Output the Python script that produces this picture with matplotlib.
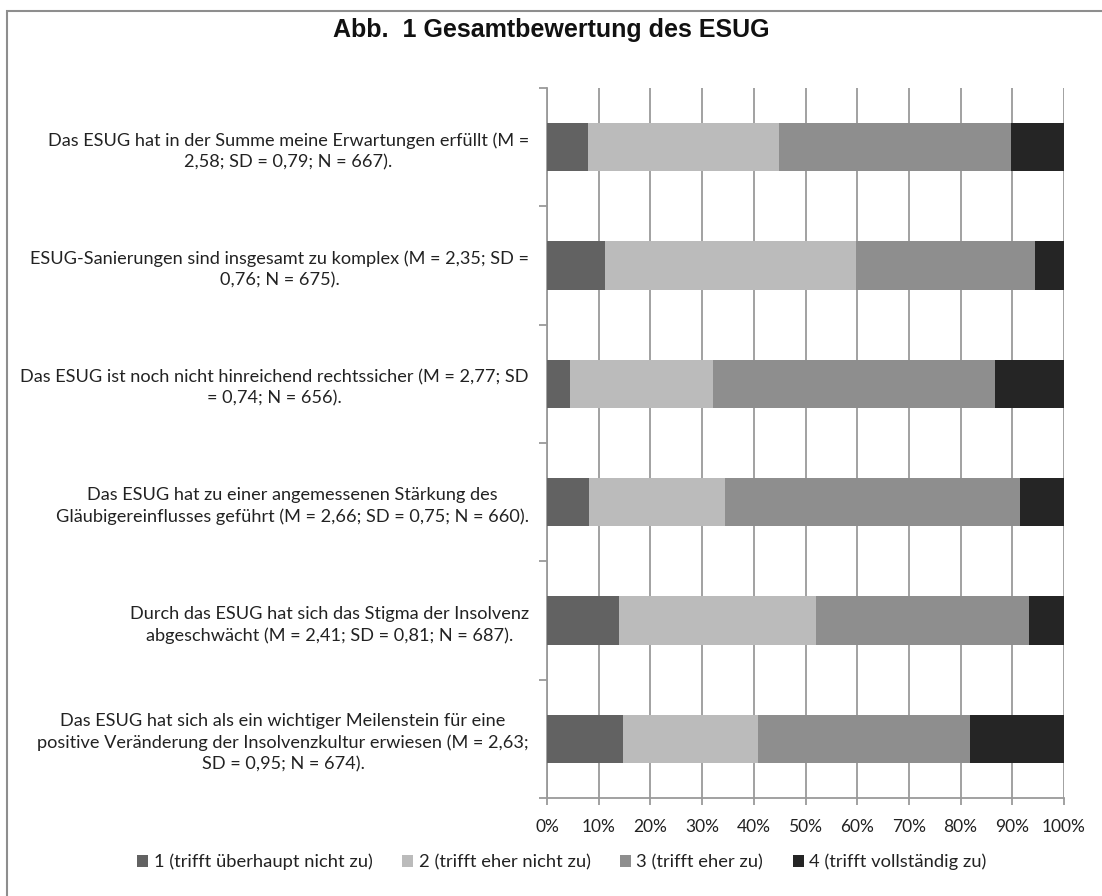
import numpy as np
import matplotlib
matplotlib.use('Agg')
import matplotlib.pyplot as plt
from matplotlib.patches import Rectangle

# survey items, top to bottom
items = [
    'Das ESUG hat in der Summe meine Erwartungen erfüllt (M =\n2,58; SD = 0,79; N = 667).',
    'ESUG-Sanierungen sind insgesamt zu komplex (M = 2,35; SD =\n0,76; N = 675).',
    'Das ESUG ist noch nicht hinreichend rechtssicher (M = 2,77; SD\n= 0,74; N = 656).',
    'Das ESUG hat zu einer angemessenen Stärkung des\nGläubigereinflusses geführt (M = 2,66; SD = 0,75; N = 660).',
    'Durch das ESUG hat sich das Stigma der Insolvenz\nabgeschwächt (M = 2,41; SD = 0,81; N = 687).',
    'Das ESUG hat sich als ein wichtiger Meilenstein für eine\npositive Veränderung der Insolvenzkultur erwiesen (M = 2,63;\nSD = 0,95; N = 674).',
]
answers = ['1 (trifft überhaupt nicht zu)', '2 (trifft eher nicht zu)',
           '3 (trifft eher zu)', '4 (trifft vollständig zu)']

# shares in percent per answer category
share_1 = [8.0, 11.3, 4.5, 8.1, 13.9, 14.7]
share_2 = [36.8, 48.4, 27.7, 26.3, 38.2, 26.1]
share_3 = [44.9, 34.6, 54.4, 57.0, 41.1, 41.0]
share_4 = [10.3, 5.7, 13.4, 8.6, 6.8, 18.2]

colors = ['#626262', '#bbbbbb', '#8e8e8e', '#252525']
grid_c = '#9a9a9a'

plt.rcParams['font.family'] = ['Lato', 'DejaVu Sans']

fig = plt.figure(figsize=(11.02, 8.96), dpi=100)
ax = fig.add_axes([547/1102, 1-798/896, (1064-547)/1102, (798-88)/896])

y = np.arange(len(items))
left = np.zeros(len(items))
for vals, col, lab in zip([share_1, share_2, share_3, share_4], colors, answers):
    v = np.array(vals) / 100
    ax.barh(y, v, left=left, height=0.41, color=col, label=lab, zorder=3)
    left += v

ax.set_xlim(0, 1)
ax.set_ylim(len(items) - 0.5, -0.5)
ax.set_xticks(np.linspace(0, 1, 11))
ax.set_xticklabels([f'{int(p)}%' for p in np.linspace(0, 100, 11)], fontsize=12.5, color='#222222')
ax.xaxis.grid(True, color=grid_c, lw=1.3, zorder=0)
ax.tick_params(axis='x', length=5, width=1.3, color=grid_c, pad=10)

ax.set_yticks(y)
ax.set_yticklabels(items, fontsize=13.1, color='#222222')
for t in ax.get_yticklabels():
    t.set_multialignment('center')
    t.set_linespacing(1.4)
ax.set_yticks(np.arange(len(items) + 1) - 0.5, minor=True)
ax.tick_params(axis='y', which='major', length=0, pad=13)
ax.tick_params(axis='y', which='minor', length=6, width=1.3, color=grid_c)

for s in ['top', 'right']:
    ax.spines[s].set_visible(False)
for s in ['left', 'bottom']:
    ax.spines[s].set_color(grid_c)
    ax.spines[s].set_linewidth(1.3)

fig.text(551/1102, 1-30/896, 'Abb.  1 Gesamtbewertung des ESUG', ha='center', va='center',
         fontsize=18, fontweight='bold', family='Liberation Sans', color='#111111')

fig.legend(loc='center', bbox_to_anchor=(562/1102, 1-862/896), ncol=4, frameon=False,
           fontsize=13.2, handlelength=0.6, handleheight=0.6, handletextpad=0.3,
           columnspacing=1.6, labelcolor='#222222')

# outer frame
fig.add_artist(Rectangle((7/1102, -0.05), 1.1, 1 - 11/896 + 0.05, transform=fig.transFigure,
                         fill=False, edgecolor='#8e8e8e', lw=1.5))

fig.savefig('out.png', dpi=100)
